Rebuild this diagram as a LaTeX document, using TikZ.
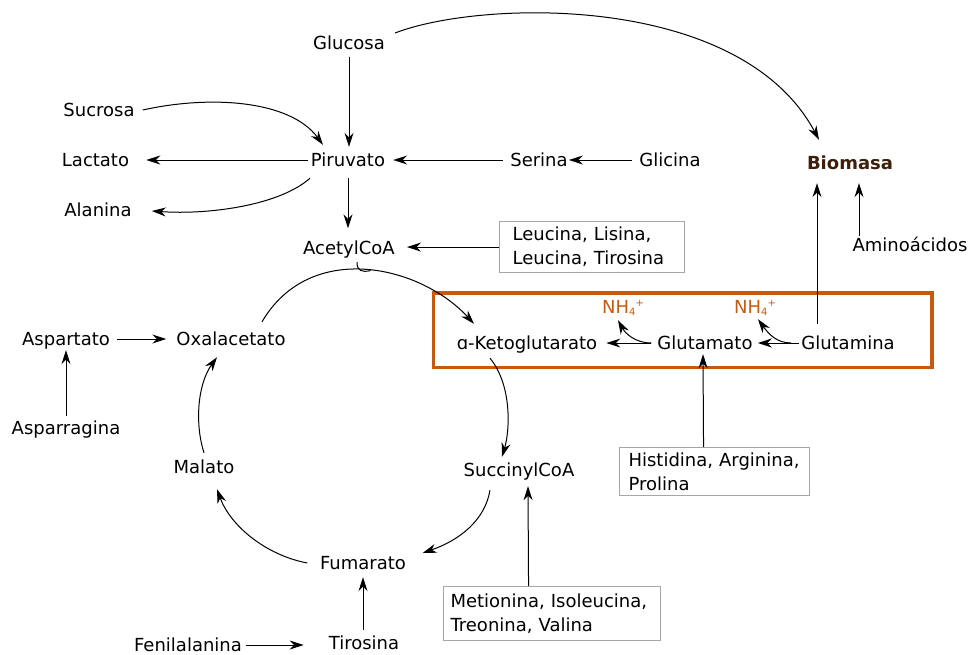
\documentclass[tikz,border=0pt]{standalone}
\usepackage{fontspec}
\setmainfont{DejaVu Sans}
\usetikzlibrary{arrows.meta}
\definecolor{orng}{HTML}{C55A11}
\definecolor{bio}{HTML}{3D1F0C}
\definecolor{boxgray}{HTML}{A6A6A6}
\begin{document}
\begin{tikzpicture}[x=1pt,y=-1pt,
  lbl/.style={inner sep=0pt, text height=13pt, text depth=0pt, font=\fontsize{18}{22}\selectfont},
  arr/.style={-{Stealth[length=14pt,width=9pt,inset=4.5pt]}, line width=1pt},
  abox/.style={draw=boxgray, line width=1.1pt, align=left, inner ysep=0pt, anchor=north west, font=\fontsize{18}{24}\selectfont},
  nh/.style={lbl, text=orng}]
\useasboundingbox (0,0) rectangle (969,654);
\newcommand{\nhf}{NH\raisebox{-1.5pt}{\fontsize{10}{10}\selectfont 4}\raisebox{7pt}{\fontsize{10}{10}\selectfont +}}
% nodes
\node[lbl] (glu) at (349,43) {Glucosa};
\node[lbl] (suc) at (99,110) {Sucrosa};
\node[lbl] (lac) at (95.5,160) {Lactato};
\node[lbl] (pir) at (348,160) {Piruvato};
\node[lbl] (ser) at (539,160) {Serina};
\node[lbl] (gli) at (670,160) {Glicina};
\node[lbl, font=\fontsize{18}{22}\selectfont\bfseries, text=bio] (bio) at (850,163) {Biomasa};
\node[lbl] (ala) at (98,210) {Alanina};
\node[lbl] (acc) at (349,248) {AcetylCoA};
\node[lbl] (amino) at (910,245) {Aminoácidos};
\node[abox, text width=159pt, inner xsep=13pt, minimum height=51pt] (leu) at (499,221) {Leucina, Lisina,\\Leucina, Tirosina};
\node[draw=orng, line width=3.5pt, minimum width=498.5pt, minimum height=74.5pt, inner sep=0pt, anchor=north west] (obox) at (431.5,291) {};
\node[nh] (nh1) at (623,307) {\nhf};
\node[nh] (nh2) at (755,307) {\nhf};
\node[lbl] (akg) at (527,343) {ɑ-Ketoglutarato};
\node[lbl] (glm) at (705,343) {Glutamato};
\node[lbl] (gln) at (848,343) {Glutamina};
\node[lbl] (asp) at (66,339) {Aspartato};
\node[lbl] (oxa) at (231,339) {Oxalacetato};
\node[lbl] (aspg) at (66,428) {Asparragina};
\node[lbl] (mal) at (204,467) {Malato};
\node[lbl] (suc2) at (519,470) {SuccinylCoA};
\node[abox, text width=172pt, inner xsep=9pt, minimum height=48pt] (hist) at (619,447) {Histidina, Arginina,\\Prolina};
\node[lbl] (fum) at (363,563) {Fumarato};
\node[abox, text width=203pt, inner xsep=7pt, minimum height=54pt] (met) at (443,586) {Metionina, Isoleucina,\\Treonina, Valina};
\node[lbl] (tir) at (364,643) {Tirosina};
\node[lbl] (fen) at (188,645) {Fenilalanina};
% connectors top
\draw[arr, shorten <=7pt, shorten >=6.5pt] (glu.south) -- (glu.south |- pir.north);
\draw[arr] ([shift={(10,-10)}]glu.east) .. controls (480,0) and (740,-8) .. ([shift={(-31,-16.5)}]bio.north);
\draw[arr] ([shift={(8,0)}]suc.east) .. controls (210,95) and (290,100) .. ([shift={(-25,-8.5)}]pir.north);
\draw[arr, shorten <=3pt, shorten >=17pt] (pir.west) -- (lac.east);
\draw[arr] ([shift={(-38,11.5)}]pir.south) .. controls (280,205) and (210,215) .. ([shift={(20,1)}]ala.east);
\draw[arr, shorten <=7.5pt, shorten >=8pt] (ser.west) -- (pir.east);
\draw[arr, shorten <=7pt, shorten >=1pt] (gli.west) -- (ser.east);
\draw[arr, shorten <=11.5pt, shorten >=13pt] (pir.south) -- (pir.south |- acc.north);
\draw[arr, shorten >=12pt] (leu.west) -- (leu.west -| acc.east);
% orange box
\draw[arr, shorten <=6pt, shorten >=9pt] (glm.west) -- (akg.east);
\draw[arr] ([xshift=-6pt]glm.west) .. controls (635,343) and (625,333) .. ([shift={(-5,6.5)}]nh1.south);
\draw[arr, shorten <=2pt, shorten >=5pt] (gln.west) -- (glm.east);
\draw[arr] ([xshift=-10pt]gln.west) .. controls (776,343) and (768,333) .. ([shift={(3,5.5)}]nh2.south);
\draw[arr] ([shift={(-31,-12.5)}]gln.north) -- ([shift={(-33,13.5)}]bio.south);
\draw[arr] ([shift={(-51,-2)}]amino.north) -- ([shift={(9,13.5)}]bio.south);
\draw[arr] ([xshift=-11pt]hist.north) -- ([shift={(-2,4.5)}]glm.south);
% cycle
\draw[arr] ([shift={(31,-10.5)}]oxa.north) .. controls (310,240) and (420,265) .. ([shift={(-53,-12.5)}]akg.north) coordinate[pos=0.52] (apex);
\draw[line width=1pt] ([shift={(8,7.5)}]acc.south) .. controls (357,271) and (362,272.5) .. (apex);
\draw[arr] ([shift={(-37,8.5)}]akg.south) .. controls (512,385) and (510,430) .. ([shift={(-17,-6.5)}]suc2.north);
\draw[arr] ([shift={(-29,13.5)}]suc2.south) .. controls (485,520) and (460,540) .. ([shift={(16.5,-10)}]fum.east);
\draw[arr] ([shift={(-12.5,0)}]fum.west) .. controls (265,555) and (230,525) .. ([shift={(13,15.5)}]mal.south);
\draw[arr] ([shift={(0,-7.5)}]mal.north) .. controls (195,425) and (197,385) .. ([shift={(-14,11.5)}]oxa.south);
\draw[arr, shorten <=7pt, shorten >=10pt] (asp.east) -- (oxa.west);
\draw[arr, shorten <=5.5pt, shorten >=4.5pt] (aspg.north) -- (asp.south);
\draw[arr, shorten <=3.5pt, shorten >=25pt] (fen.east) -- (fen.east -| tir.west);
\draw[arr, shorten <=6.5pt, shorten >=7.5pt] ([xshift=-1pt]tir.north) -- (fum.south);
\draw[arr] ([xshift=-23.5pt]met.north) -- ([shift={(9,9.5)}]suc2.south);
\end{tikzpicture}
\end{document}
